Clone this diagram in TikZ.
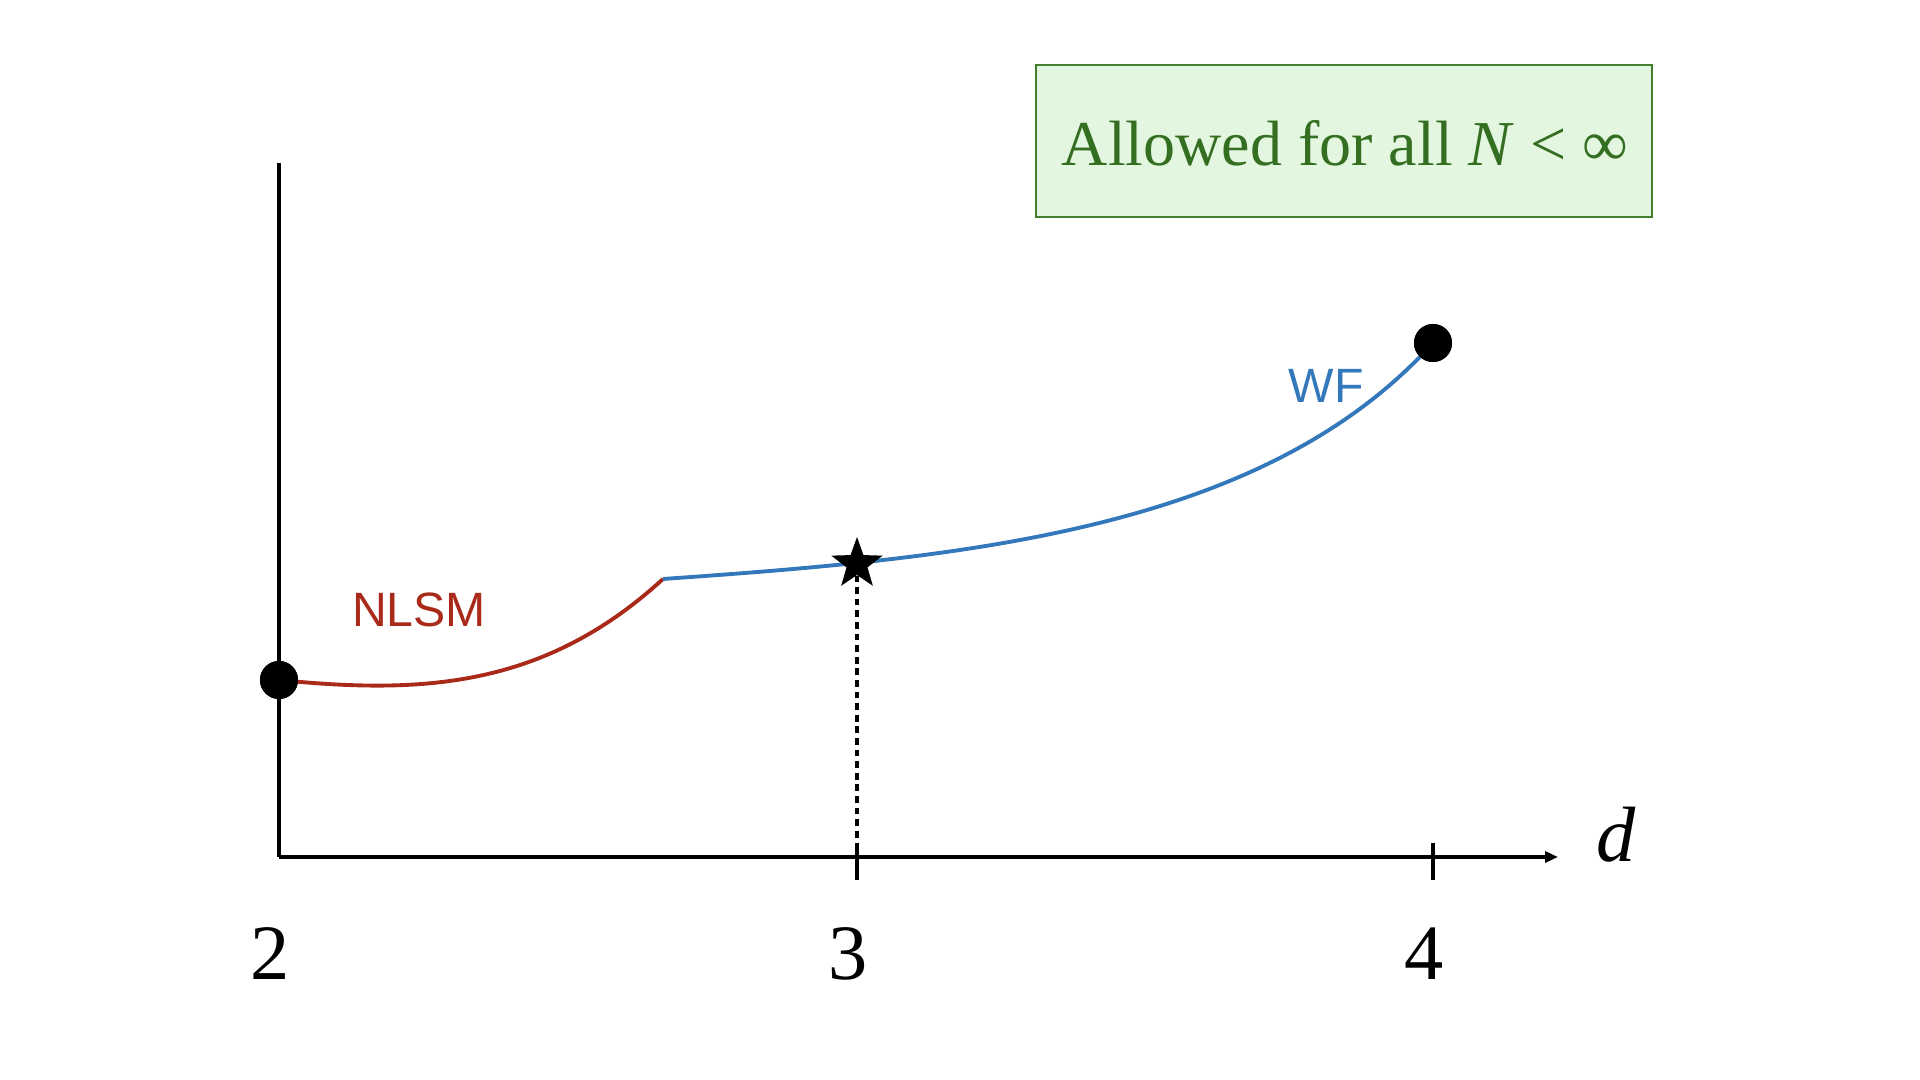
\documentclass[tikz,border=0pt]{standalone}
\usepackage{fontspec}
\setmainfont{Liberation Serif}
\newfontfamily\labelsans{Liberation Sans}
\usetikzlibrary{arrows.meta}
\definecolor{nlsmred}{RGB}{170,42,26}
\definecolor{wfblue}{RGB}{52,120,188}
\definecolor{boxfill}{RGB}{226,246,224}
\definecolor{boxline}{RGB}{66,128,46}
\definecolor{boxtext}{RGB}{52,110,32}
\tikzset{
  axisline/.style={line width=0.95pt, black},
  tickline/.style={line width=0.95pt, black},
  curvered/.style={line width=1.1pt, nlsmred},
  curveblue/.style={line width=1.1pt, wfblue},
  guide/.style={line width=0.95pt, black, dash pattern=on 1.9pt off 1.4pt},
  bigdot/.style={circle, fill=black, minimum size=0.38cm, inner sep=0pt},
  ticklabel/.style={font=\fontsize{22.3}{26}\selectfont, anchor=base, inner sep=0pt},
  curvelabel/.style={font=\labelsans\fontsize{13.7}{16}\selectfont, anchor=base, inner sep=0pt},
  legendbox/.style={draw=boxline, line width=0.6pt, fill=boxfill,
    minimum width=6.15cm, minimum height=1.52cm, inner sep=0pt},
  legendtext/.style={text=boxtext, anchor=base, inner sep=0pt,
    font=\fontsize{18.2}{22}\selectfont},
}
\begin{document}
\begin{tikzpicture}[x=0.01cm, y=-0.01cm]
\useasboundingbox (0,0) rectangle (1920,1080);
% coordinates
\coordinate (origin) at (279,857);
\coordinate (ytop) at (279,163);
\coordinate (xend) at (1558,857);
\coordinate (t3a) at (857,843);
\coordinate (t3b) at (857,880);
\coordinate (t4a) at (1433,843);
\coordinate (t4b) at (1433,880);
\coordinate (t3axis) at (857,857);
\coordinate (junction) at (663,579);
% axes
\draw[axisline] (ytop) -- (origin);
\draw[axisline, -{Triangle[length=0.13cm, width=0.11cm]}] (origin) -- (xend);
\draw[tickline] (t3a) -- (t3b);
\draw[tickline] (t4a) -- (t4b);
% points
\node[bigdot] (p2) at (279,680) {};
\node[bigdot] (p4) at (1433,343) {};
\coordinate (star) at (857,564);
% dotted guide
\draw[guide] (star) -- (t3axis);
% curves
\draw[curvered] (p2.center) .. controls (420,694) and (543,689) .. (junction);
\draw[curveblue] (junction) .. controls (963,558) and (1263,531) .. (p4.center);
% redraw dots on top
\node[bigdot] at (p2) {};
\node[bigdot] at (p4) {};
% star
\fill[black, shift={(star)}] (270:27) -- (306:11) -- (342:27) -- (18:11) -- (54:27) -- (90:11) -- (126:27) -- (162:11) -- (198:27) -- (234:11) -- cycle;
% labels
\node[ticklabel] (l2) at (270,980) {2};
\node[ticklabel] (l3) at (848,980) {3};
\node[ticklabel] (l4) at (1424,980) {4};
\node[ticklabel] (ld) at (1616,862) {\textit{d}};
\node[curvelabel, text=nlsmred] (nlsm) at (419,627) {NLSM};
\node[curvelabel, text=wfblue] (wf) at (1326,403) {WF};
\node[legendbox] (legend) at (1344,141) {};
\node[legendtext] (legendlabel) at (1345,166) {Allowed for all \textit{N} < ∞};
\end{tikzpicture}
\end{document}
